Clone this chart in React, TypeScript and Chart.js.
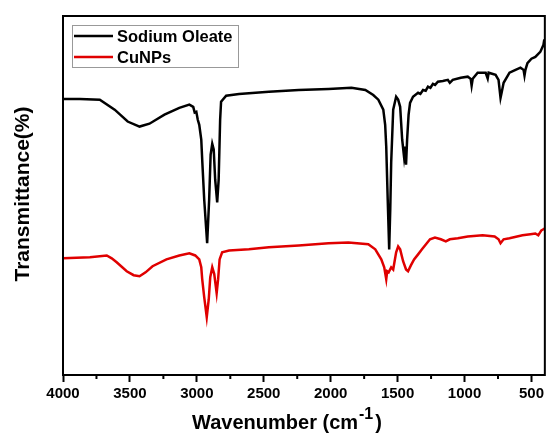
import React, { useEffect, useRef } from "react";
import { Chart, registerables } from "chart.js";

Chart.register(...registerables);

// Wavenumber (cm-1) and relative transmittance (arbitrary 0-100 units)
const oleateWn = [4000, 3874, 3725, 3614, 3517, 3428, 3354, 3242, 3131, 3056, 3027, 3016, 3004, 2993, 2982, 2967, 2960, 2945, 2923, 2908, 2897, 2885, 2874, 2863, 2848, 2837, 2826, 2819, 2781, 2685, 2462, 2239, 2016, 1845, 1741, 1682, 1644, 1607, 1593, 1585, 1574, 1563, 1555, 1548, 1533, 1511, 1496, 1481, 1466, 1452, 1444, 1437, 1429, 1418, 1407, 1385, 1347, 1330, 1310, 1290, 1273, 1255, 1236, 1220, 1199, 1162, 1125, 1110, 1088, 1028, 976, 954, 947, 939, 902, 842, 827, 820, 768, 746, 731, 723, 708, 664, 619, 582, 559, 552, 545, 530, 500, 471, 434, 411, 404];
const oleateT = [76.9, 76.9, 76.7, 73.9, 70.6, 69.2, 70.0, 72.5, 74.4, 75.3, 74.7, 73.1, 73.3, 71.1, 69.7, 65.6, 60, 48.9, 36.7, 48.9, 61.4, 64.4, 62.8, 54.4, 48.1, 54.4, 71.1, 76.1, 77.8, 78.3, 78.9, 79.4, 79.7, 80, 79.4, 78, 76.7, 73.9, 69.7, 63.6, 48.9, 35, 46.1, 59.2, 73.9, 77.5, 76.7, 74.7, 65.6, 60.8, 63.6, 58.6, 65.6, 72.5, 75.8, 77.5, 78.6, 78.3, 79.4, 79.2, 80.3, 80.0, 81.1, 80.8, 81.7, 81.9, 82.2, 81.4, 82.2, 82.8, 83.1, 82.5, 80.6, 82.5, 84.2, 84.2, 82.6, 84.2, 83.6, 82.2, 77.2, 78.6, 81.4, 84.2, 85, 85.6, 85, 83.4, 85, 86.9, 88.1, 88.6, 90, 91.9, 93.5];

const cunpsWn = [4000, 3799, 3673, 3636, 3599, 3524, 3472, 3428, 3383, 3331, 3227, 3131, 3056, 3012, 2982, 2967, 2960, 2945, 2926, 2911, 2900, 2885, 2870, 2852, 2841, 2830, 2811, 2759, 2611, 2462, 2239, 2016, 1868, 1719, 1667, 1622, 1600, 1585, 1578, 1567, 1548, 1533, 1511, 1496, 1481, 1459, 1437, 1422, 1400, 1377, 1347, 1318, 1288, 1258, 1221, 1177, 1140, 1110, 1050, 976, 865, 775, 746, 731, 708, 664, 567, 508, 471, 449, 426, 411, 404];
const cunpsT = [32.5, 32.8, 33.3, 32.5, 31.4, 28.9, 27.8, 27.5, 28.6, 30.3, 32.2, 33.3, 33.9, 33.3, 32.2, 30, 26.7, 21.7, 16.1, 21.1, 27.2, 30, 28.1, 22.8, 26.7, 32.2, 34.2, 34.7, 35, 35.6, 36.1, 36.7, 36.9, 36.4, 35, 32.2, 30, 26.7, 28.9, 28.6, 30, 29.4, 34.2, 35.8, 35, 31.7, 29.4, 28.9, 30.6, 32.2, 33.6, 35, 36.4, 37.8, 38.3, 37.8, 37.2, 37.8, 38.1, 38.6, 38.9, 38.6, 37.8, 36.7, 37.8, 38.1, 38.9, 39.2, 39.4, 38.9, 40.3, 40.6, 40.8];

const seriesNames = ["Sodium Oleate", "CuNPs"];
const seriesColors = ["#000000", "#e00000"];
const majorTicks = [4000, 3500, 3000, 2500, 2000, 1500, 1000, 500];
const minorTicks = [3750, 3250, 2750, 2250, 1750, 1250, 750];

const FONT = "'Liberation Sans', Arial, sans-serif";

const decorPlugin = {
  id: "decor",
  afterDraw(chart: any) {
    const { ctx, chartArea } = chart;
    const { left, top, right, bottom } = chartArea;
    const xs = chart.scales.x;
    ctx.save();
    // frame
    ctx.strokeStyle = "#000";
    ctx.lineWidth = 2;
    ctx.strokeRect(left, top, right - left, bottom - top);
    // minor ticks
    minorTicks.forEach((v) => {
      const px = xs.getPixelForValue(v);
      ctx.beginPath();
      ctx.moveTo(px, bottom);
      ctx.lineTo(px, bottom + 4);
      ctx.stroke();
    });
    // legend
    ctx.strokeStyle = "#999";
    ctx.lineWidth = 1;
    ctx.strokeRect(72.5, 25.5, 166, 42);
    ctx.font = `bold 16.5px ${FONT}`;
    ctx.textBaseline = "middle";
    ctx.textAlign = "left";
    seriesNames.forEach((name, i) => {
      const y = 36 + i * 21;
      ctx.strokeStyle = seriesColors[i];
      ctx.lineWidth = 2.5;
      ctx.beginPath();
      ctx.moveTo(74, y);
      ctx.lineTo(113, y);
      ctx.stroke();
      ctx.fillStyle = "#000";
      ctx.fillText(name, 117, y + 1);
    });
    // y title
    ctx.save();
    ctx.translate(23, 194);
    ctx.rotate(-Math.PI / 2);
    ctx.font = `bold 21px ${FONT}`;
    ctx.textAlign = "center";
    ctx.textBaseline = "middle";
    ctx.fillStyle = "#000";
    ctx.fillText("Transmittance(%)", 0, 0);
    ctx.restore();
    // x title with superscript
    ctx.fillStyle = "#000";
    ctx.textBaseline = "alphabetic";
    ctx.textAlign = "left";
    const mainFont = `bold 20px ${FONT}`;
    const supFont = `bold 16px ${FONT}`;
    const p1 = "Wavenumber (cm";
    const p2 = "-1";
    const p3 = ")";
    ctx.font = mainFont;
    const w1 = ctx.measureText(p1).width;
    const w3 = ctx.measureText(p3).width;
    ctx.font = supFont;
    const w2 = ctx.measureText(p2).width;
    const total = w1 + w2 + 3 + w3;
    let x = 287 - total / 2;
    const base = 429;
    ctx.font = mainFont;
    ctx.fillText(p1, x, base);
    x += w1 + 1;
    ctx.font = supFont;
    ctx.fillText(p2, x, base - 10);
    x += w2 + 2;
    ctx.font = mainFont;
    ctx.fillText(p3, x, base);
    ctx.restore();
  },
};

export default function App() {
  const ref = useRef<HTMLCanvasElement | null>(null);
  useEffect(() => {
    if (!ref.current) return;
    const chart = new Chart(ref.current, {
      type: "line",
      data: {
        datasets: [
          {
            label: seriesNames[0],
            data: oleateWn.map((w, i) => ({ x: w, y: oleateT[i] })),
            borderColor: seriesColors[0],
            borderWidth: 2.5,
            pointRadius: 0,
            tension: 0,
          },
          {
            label: seriesNames[1],
            data: cunpsWn.map((w, i) => ({ x: w, y: cunpsT[i] })),
            borderColor: seriesColors[1],
            borderWidth: 2.5,
            pointRadius: 0,
            tension: 0,
          },
        ],
      },
      options: {
        animation: false,
        responsive: true,
        maintainAspectRatio: false,
        layout: { padding: { left: 63, top: 16, right: 1, bottom: 0 } },
        plugins: { legend: { display: false }, tooltip: { enabled: false } },
        scales: {
          x: {
            type: "linear",
            reverse: true,
            min: 400,
            max: 4000,
            afterBuildTicks: (scale: any) => {
              scale.ticks = majorTicks.map((v) => ({ value: v }));
            },
            afterFit: (scale: any) => {
              scale.height = 59;
            },
            border: { display: false },
            grid: {
              display: true,
              drawOnChartArea: false,
              drawTicks: true,
              tickLength: 7,
              tickWidth: 2,
              tickColor: "#000",
            },
            ticks: {
              color: "#000",
              padding: 3,
              maxRotation: 0,
              autoSkip: false,
              font: { family: FONT, size: 15, weight: "bold" },
              callback: (v: any) => String(v),
            },
          },
          y: {
            display: false,
            min: 0,
            max: 100,
          },
        },
      },
      plugins: [decorPlugin],
    });
    return () => chart.destroy();
  }, []);
  return (
    <div style={{ position: "fixed", left: 0, top: 0, width: 547, height: 434, background: "#fff" }}>
      <canvas ref={ref} />
    </div>
  );
}
